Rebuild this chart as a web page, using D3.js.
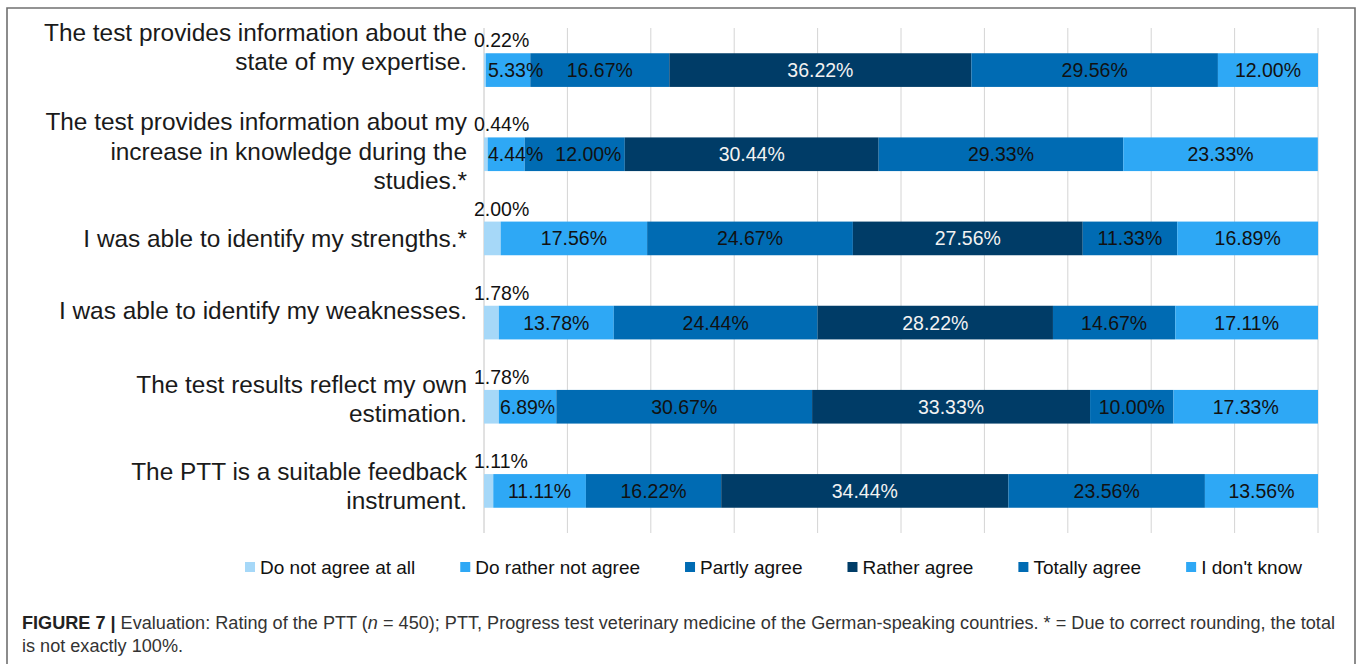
<!DOCTYPE html>
<html>
<head>
<meta charset="utf-8">
<script src="https://cdn.jsdelivr.net/npm/d3@7"></script>
<style>
  html, body { margin: 0; padding: 0; background: #fff; }
  svg { display: block; font-family: "Liberation Sans", Arial, sans-serif; }
</style>
</head>
<body>
<svg id="chart" width="1360" height="664"></svg>
<script>
// ---------------- DATA ----------------
const categories = [
  "The test provides information about the\nstate of my expertise.",
  "The test provides information about my\nincrease in knowledge during the\nstudies.*",
  "I was able to identify my strengths.*",
  "I was able to identify my weaknesses.",
  "The test results reflect my own\nestimation.",
  "The PTT is a suitable feedback\ninstrument."
];
const seriesNames = ["Do not agree at all", "Do rather not agree", "Partly agree", "Rather agree", "Totally agree", "I don't know"];
const doNotAgree    = [0.22, 0.44, 2.00, 1.78, 1.78, 1.11];
const ratherNot     = [5.33, 4.44, 17.56, 13.78, 6.89, 11.11];
const partlyAgree   = [16.67, 12.00, 24.67, 24.44, 30.67, 16.22];
const ratherAgree   = [36.22, 30.44, 27.56, 28.22, 33.33, 34.44];
const totallyAgree  = [29.56, 29.33, 11.33, 14.67, 10.00, 23.56];
const dontKnow      = [12.00, 23.33, 16.89, 17.11, 17.33, 13.56];
const xTicks = [0, 10, 20, 30, 40, 50, 60, 70, 80, 90, 100];

// ---------------- STYLE / LAYOUT ----------------
const colors = ["#a6d8f8", "#2ea8f5", "#006bb3", "#003c67", "#006bb3", "#2ea8f5"];
const textColors = ["#111", "#111", "#111", "#f2f2f2", "#111", "#111"];
const labelNudge = [-23, -3, 0, -12, -8, -5];   // vertical text nudge of category labels

const svg = d3.select("#chart");
svg.append("rect").attr("width", 1360).attr("height", 664).attr("fill", "#fff");
// frame
svg.append("path")
  .attr("d", "M7,670 L7,8 L1355,8 L1355,670")
  .attr("fill", "none").attr("stroke", "#707070").attr("stroke-width", 1.6);

const series = [doNotAgree, ratherNot, partlyAgree, ratherAgree, totallyAgree, dontKnow];
const rows = categories.map((c, i) => {
  let acc = 0;
  const segs = series.map((s, k) => {
    const seg = { k, v: s[i], x0: acc, x1: acc + s[i] };
    acc += s[i];
    return seg;
  });
  return { c, i, segs };
});

const x = d3.scaleLinear().domain([0, 100]).range([484, 1318]);
const y = d3.scaleBand().domain(d3.range(categories.length)).range([28, 533]).paddingInner(0.6).paddingOuter(0.3);

// gridlines
svg.append("g").selectAll("line").data(xTicks).join("line")
  .attr("x1", d => x(d)).attr("x2", d => x(d))
  .attr("y1", 28).attr("y2", 533)
  .attr("stroke", d => d === 0 ? "#c4c4c4" : "#d4d4d4").attr("stroke-width", 1);

// bars
const gRows = svg.append("g").selectAll("g").data(rows).join("g");
gRows.selectAll("rect").data(d => d.segs).join("rect")
  .attr("x", d => x(d.x0))
  .attr("width", d => x(d.x1) - x(d.x0))
  .attr("y", function() { return y(d3.select(this.parentNode).datum().i); })
  .attr("height", y.bandwidth())
  .attr("fill", d => colors[d.k]);

// value labels
const fmt = v => v.toFixed(2) + "%";
rows.forEach(r => {
  const top = y(r.i), cy = top + y.bandwidth() / 2;
  svg.append("text")
    .attr("x", x(0) - 10).attr("y", top - 6)
    .attr("font-size", 19.5).attr("fill", "#111")
    .text(fmt(r.segs[0].v));
  let minLeft = x(0) + 4;
  r.segs.slice(1).forEach(s => {
    const t = svg.append("text")
      .attr("y", cy).attr("dy", "0.36em")
      .attr("font-size", 19.5).attr("fill", textColors[s.k])
      .text(fmt(s.v));
    const w = t.node().getComputedTextLength();
    const cx = (x(s.x0) + x(s.x1)) / 2;
    const left = Math.max(cx - w / 2, minLeft);
    t.attr("x", left);
    minLeft = left + w + 12;
  });
});

// category labels
rows.forEach(r => {
  const lines = r.c.split("\n");
  const lh = 29.5;
  const cy = y(r.i) + y.bandwidth() / 2 + labelNudge[r.i];
  const t = svg.append("text")
    .attr("text-anchor", "end").attr("font-size", 24.4).attr("fill", "#1a1a1a");
  lines.forEach((ln, j) => {
    t.append("tspan").attr("x", 467)
      .attr("y", cy + (j - (lines.length - 1) / 2) * lh)
      .attr("dy", "0.35em").text(ln);
  });
});

// legend
let lx = 245;
const ly = 567;
seriesNames.forEach((n, k) => {
  svg.append("rect").attr("x", lx).attr("y", ly - 5).attr("width", 10).attr("height", 10).attr("fill", colors[k]);
  const t = svg.append("text").attr("x", lx + 15).attr("y", ly).attr("dy", "0.36em")
    .attr("font-size", 19).attr("fill", "#111").text(n);
  lx += 15 + t.node().getComputedTextLength() + 45;
});

// caption
const capSize = 17.5;
const cap = svg.append("text").attr("x", 22).attr("y", 629).attr("font-size", capSize).attr("fill", "#333");
cap.append("tspan").attr("font-weight", "bold").attr("fill", "#222").text("FIGURE 7 | ");
cap.append("tspan").text("Evaluation: Rating of the PTT (");
cap.append("tspan").attr("font-style", "italic").text("n");
cap.append("tspan").text(" = 450); PTT, Progress test veterinary medicine of the German-speaking countries. * = Due to correct rounding, the total");
const capW = cap.node().getComputedTextLength();
const capScale = 1313 / capW;
cap.attr("textLength", 1313).attr("lengthAdjust", "spacingAndGlyphs");
const cap2 = svg.append("text").attr("x", 22).attr("y", 652).attr("font-size", capSize).attr("fill", "#333")
  .text("is not exactly 100%.");
cap2.attr("textLength", cap2.node().getComputedTextLength() * capScale).attr("lengthAdjust", "spacingAndGlyphs");
</script>
</body>
</html>
